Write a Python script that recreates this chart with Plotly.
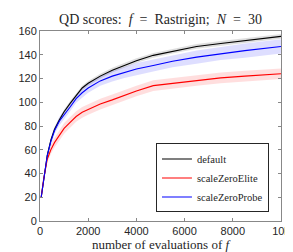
import plotly.graph_objects as go

evals = [50, 150, 300, 450, 600, 800, 1000, 1250, 1500, 1750, 2000, 2500, 3000, 3500, 4000, 4700, 5500, 6500, 7500, 8500, 10000]
default_mean = [20, 36, 55, 68, 77, 85, 92, 99, 106, 112, 116, 122, 127, 131, 135, 139.5, 143, 147, 149.5, 152, 155.5]
default_sd = [0.5, 1, 1.5, 2, 2, 2, 2, 2, 2, 2, 2, 2, 2, 2, 2, 2, 2, 2, 2, 2, 2]
elite_mean = [20, 35, 52, 60, 66, 72, 78, 83, 88, 91.5, 94, 98.5, 102, 106, 109.5, 114, 116, 118.5, 120.5, 122, 124]
elite_sd = [0.5, 1.5, 3, 3.5, 4, 4.5, 4.5, 4.5, 4.5, 4.5, 4.5, 4.5, 4.5, 4.5, 4.5, 4.5, 4.5, 4.5, 4.5, 4.5, 4.5]
probe_mean = [20, 36, 55, 67, 76, 84, 89, 96, 103, 108, 112, 118, 122, 125, 128, 131, 134.5, 138, 141, 143.5, 147]
probe_sd = [0.5, 1, 2, 3, 3, 3.5, 3.5, 3.5, 3.5, 4, 4, 4, 4.5, 4.5, 5, 5, 5, 5.5, 5.5, 6, 6]

series = [
    ("default", default_mean, default_sd, "#000000", "rgba(0,0,0,0.13)"),
    ("scaleZeroElite", elite_mean, elite_sd, "#ff0000", "rgba(255,0,0,0.13)"),
    ("scaleZeroProbe", probe_mean, probe_sd, "#0000ff", "rgba(0,0,255,0.13)"),
]

SERIF = "Liberation Serif"

fig = go.Figure()
for name, m, s, col, fcol in series:
    upper = [a + b for a, b in zip(m, s)]
    lower = [a - b for a, b in zip(m, s)]
    fig.add_trace(go.Scatter(
        x=evals + evals[::-1], y=upper + lower[::-1],
        fill="toself", fillcolor=fcol, line=dict(width=0),
        mode="lines", showlegend=False, hoverinfo="skip"))
for name, m, s, col, fcol in series:
    fig.add_trace(go.Scatter(x=evals, y=m, mode="lines", name=name,
                             line=dict(color=col, width=1.1)))

axis_common = dict(
    showline=True, linecolor="#888888", linewidth=1, mirror="ticks",
    ticks="inside", ticklen=3, tickcolor="#888888", showgrid=False, zeroline=False,
    tickfont=dict(family="Liberation Sans", size=11, color="#262626"),
)

fig.update_layout(
    width=293, height=252,
    margin=dict(l=26, r=10.5, t=23, b=35),
    paper_bgcolor="white", plot_bgcolor="white",
    title=dict(text="QD scores:&nbsp; <i>f</i>&nbsp; =&nbsp; Rastrigin;&nbsp; <i>N</i>&nbsp; =&nbsp; 30",
               x=0.5, xref="paper", xanchor="center", y=0.955, yanchor="middle",
               font=dict(family=SERIF, size=14, color="#262626")),
    xaxis=dict(range=[0, 10000], tickvals=[0, 2000, 4000, 6000, 8000, 10000],
               title=dict(text="number of evaluations of <i>f</i>", standoff=3,
                          font=dict(family=SERIF, size=13, color="#262626")),
               **axis_common),
    yaxis=dict(range=[0, 160], tickvals=[0, 20, 40, 60, 80, 100, 120, 140, 160], **axis_common),
    legend=dict(x=0.95, y=0.045, xanchor="right", yanchor="bottom",
                bordercolor="#262626", borderwidth=1, bgcolor="white",
                font=dict(family=SERIF, size=10.5, color="#262626"),
                itemwidth=30, tracegroupgap=0),
    showlegend=True,
)

fig.write_html("out.html")
